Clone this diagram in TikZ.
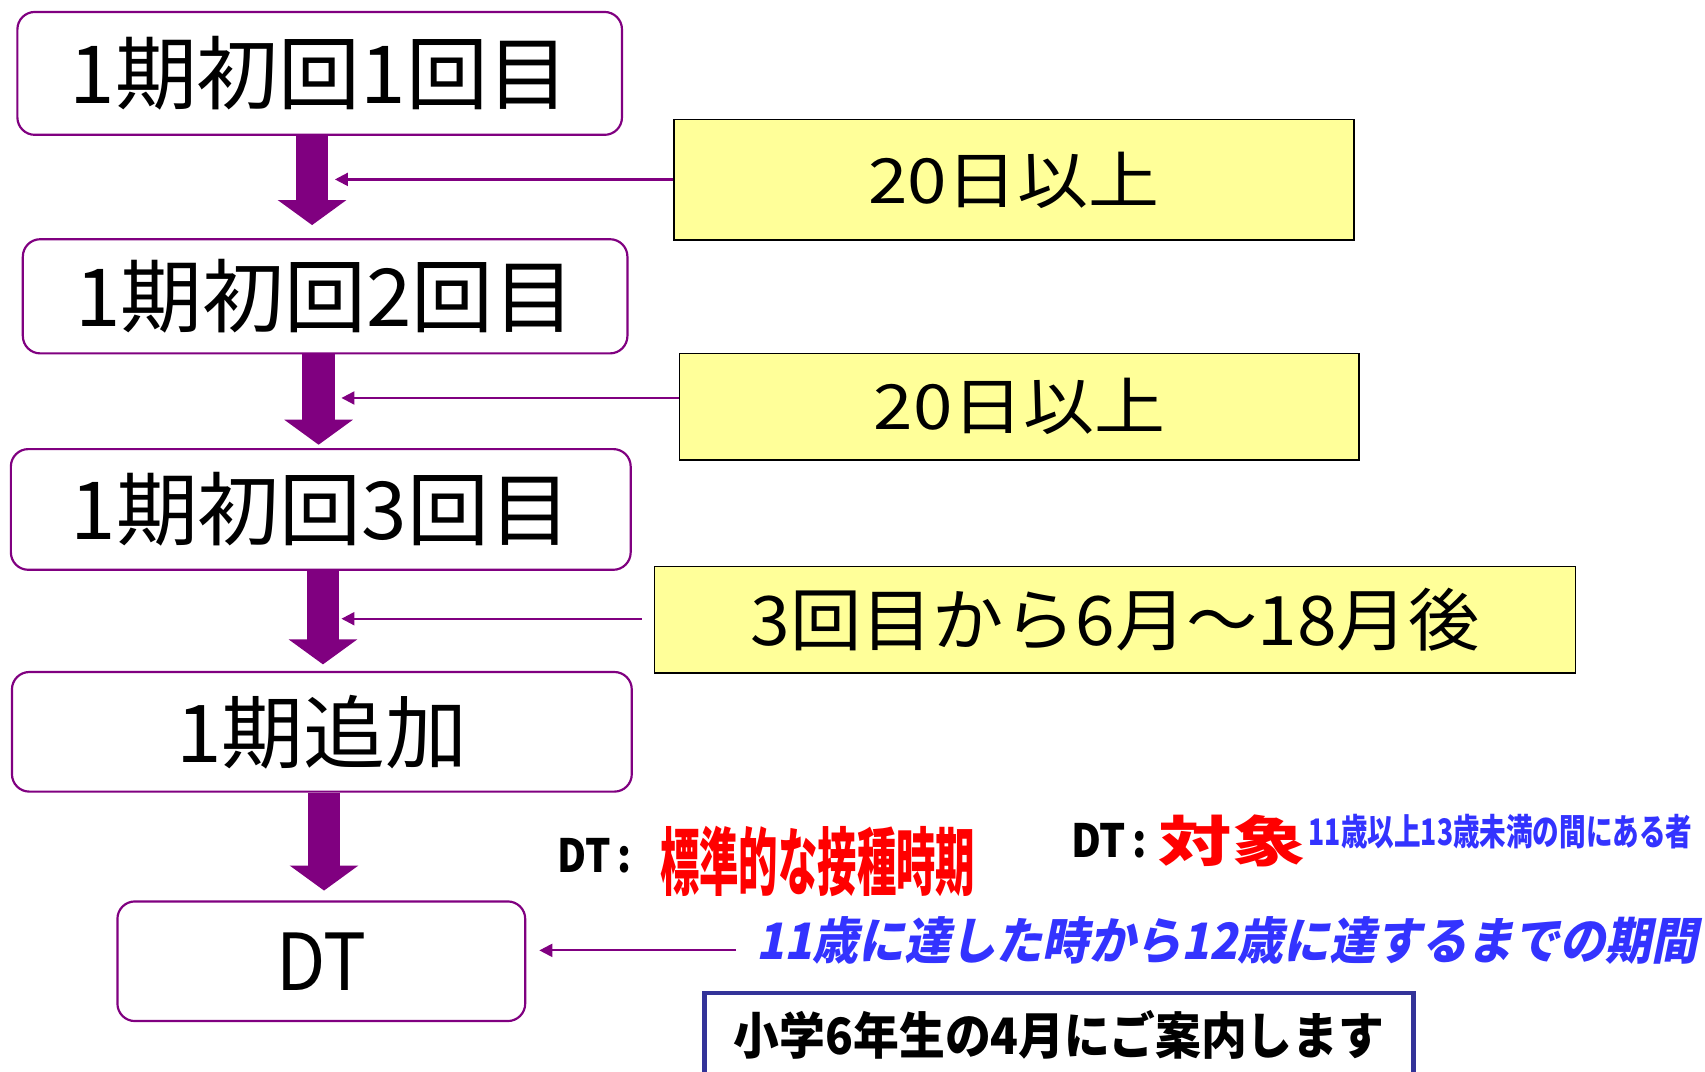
\documentclass[tikz,border=0pt]{standalone}
\usepackage{fontspec}
\setmainfont{Noto Sans CJK JP}
\usetikzlibrary{arrows.meta,calc}
\definecolor{pur}{HTML}{800080}
\definecolor{lyel}{HTML}{FFFF99}
\definecolor{navy}{HTML}{333399}
\definecolor{bl}{HTML}{3333FF}
\newcommand\fitt[3]{\resizebox*{#1pt}{#2pt}{#3}}
\begin{document}
\begin{tikzpicture}[x=1pt,y=-1pt,
  stepbox/.style={draw=pur, line width=2pt, rounded corners=16pt, fill=white, inner sep=0pt},
  ybox/.style={draw=black, line width=1.5pt, fill=lyel, inner sep=0pt},
  fat/.style={pur, line width=30pt, -{Triangle[length=23pt,width=62pt]}},
  thin/.style={pur, line width=2pt, -{Triangle[length=12pt,width=12pt]}},
  txt/.style={inner sep=0pt}]
\useasboundingbox (0,0) rectangle (1568,985);
% step boxes
\node[stepbox, minimum width=556pt, minimum height=113pt] (b1) at (294,67.5) {\fitt{460}{68}{1期初回1回目}};
\node[stepbox, minimum width=556pt, minimum height=105pt] (b2) at (299,272.5) {\fitt{460}{68}{1期初回2回目}};
\node[stepbox, minimum width=570pt, minimum height=111pt] (b3) at (295,468.5) {\fitt{460}{68}{1期初回3回目}};
\node[stepbox, minimum width=570pt, minimum height=110pt] (b4) at (296,673) {\fitt{268}{68}{1期追加}};
\node[stepbox, minimum width=375pt, minimum height=110pt] (b5) at (295.5,884) {\fitt{83}{53}{DT}};
% yellow boxes
\node[ybox, minimum width=625pt, minimum height=111pt] (y1) at (932.5,165.5) {\fitt{268}{52}{20日以上}};
\node[ybox, minimum width=625pt, minimum height=98pt] (y2) at (937.5,374) {\fitt{268}{52}{20日以上}};
\node[ybox, minimum width=847pt, minimum height=98pt] (y3) at (1025.5,570) {\fitt{670}{58}{3回目から6月～18月後}};
% fat arrows
\coordinate (a1) at ($(b1.south)+(-7,0)$);
\coordinate (a2) at ($(b2.south)+(-6,0)$);
\coordinate (a3) at ($(b3.south)+(2,0)$);
\coordinate (a4) at ($(b4.south)+(2,0)$);
\draw[fat] (a1) -- ($(a1 |- b2.north)+(0,-12)$);
\draw[fat] (a2) -- ($(a2 |- b3.north)+(0,-3)$);
\draw[fat] (a3) -- ($(a3 |- b4.north)+(0,-6)$);
\draw[fat] (a4) -- ($(a4 |- b5.north)+(0,-9)$);
% thin arrows
\coordinate (t1) at (308,165);
\coordinate (t2) at (314,366);
\coordinate (t3) at (314,569);
\coordinate (s5) at (677,874);
\draw[thin] (y1.west |- t1) -- (t1);
\draw[thin] (y2.west |- t2) -- (t2);
\draw[thin] ($(y3.west |- t3)+(-11,0)$) -- (t3);
\draw[thin] (s5) -- ($(b5.east |- s5)+(12,0)$);
% annotations
\node[txt, font=\bfseries] (dt1) at (547,787) {\fitt{68}{32}{DT\,:}};
\node[txt, font=\bfseries, text=red] (std) at (752,792) {\fitt{290}{65}{標準的な接種時期}};
\node[txt, font=\bfseries] (dt2) at (1020,773) {\fitt{70}{32}{DT\,:}};
\node[txt, font=\bfseries, text=red] (tai) at (1133,773) {\fitt{135}{48}{対象}};
\node[txt, font=\bfseries, text=bl] (age) at (1380,765) {\fitt{353}{32}{11歳以上13歳未満の間にある者}};
\node[txt, font=\bfseries, text=bl, xslant=0.2, transform shape] (per) at (1132,865) {\fitt{865}{44}{11歳に達した時から12歳に達するまでの期間}};
\node[draw=navy, line width=4pt, fill=white, minimum width=652pt, minimum height=78pt, inner sep=0pt] (nav) at (974,952) {\fitt{598}{45}{\bfseries 小学6年生の4月にご案内します}};
\end{tikzpicture}
\end{document}
